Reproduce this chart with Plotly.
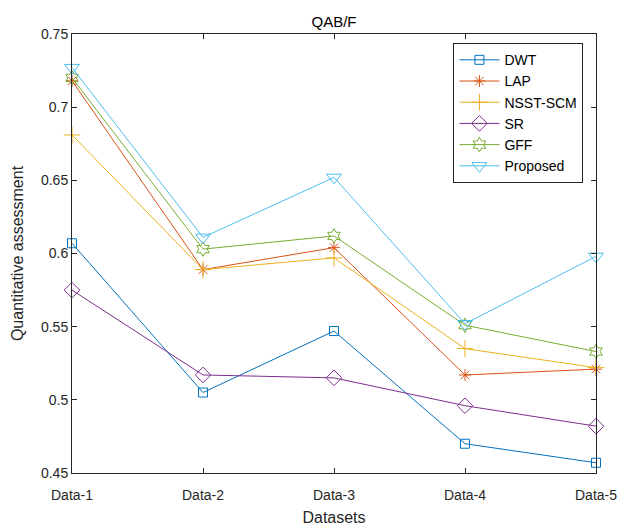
import plotly.graph_objects as go

datasets = ["Data-1", "Data-2", "Data-3", "Data-4", "Data-5"]
dwt = [0.607, 0.505, 0.547, 0.470, 0.457]
lap = [0.718, 0.589, 0.604, 0.517, 0.521]
nsst_scm = [0.681, 0.589, 0.597, 0.535, 0.522]
sr = [0.575, 0.517, 0.515, 0.496, 0.482]
gff = [0.720, 0.603, 0.612, 0.551, 0.533]
proposed = [0.727, 0.611, 0.652, 0.552, 0.598]

y_ticks = [0.45, 0.5, 0.55, 0.6, 0.65, 0.7, 0.75]
y_tick_text = ["0.45", "0.5", "0.55", "0.6", "0.65", "0.7", "0.75"]

series = [
    ("DWT", dwt, "#0072BD", "square-open", 9),
    ("LAP", lap, "#D95319", "asterisk-open", 10),
    ("NSST-SCM", nsst_scm, "#EDB120", "cross-thin-open", 12),
    ("SR", sr, "#7E2F8E", "diamond-open", 12),
    ("GFF", gff, "#77AC30", "hexagram-open", 11),
    ("Proposed", proposed, "#4DBEEE", "triangle-down-open", 13),
]

FONT = "Liberation Sans, Arial"
xs = list(range(1, len(datasets) + 1))
fig = go.Figure()
for name, vals, color, sym, size in series:
    fig.add_trace(go.Scatter(
        x=xs, y=vals, name=name, mode="lines+markers",
        line=dict(color=color, width=1),
        marker=dict(symbol=sym, size=size, color=color, line=dict(color=color, width=1)),
        cliponaxis=False,
    ))

axis_common = dict(
    showline=True, linecolor="#262626", linewidth=1, mirror="allticks",
    ticks="inside", ticklen=5, tickcolor="#262626", showgrid=False, zeroline=False,
    tickfont=dict(family=FONT, size=14, color="#262626"), automargin=False,
)
fig.update_xaxes(
    range=[1, 5], tickvals=xs, ticktext=datasets, ticklabelstandoff=9,
    title=dict(text="Datasets", font=dict(family=FONT, size=16, color="#262626"), standoff=13),
    **axis_common,
)
fig.update_yaxes(
    range=[0.45, 0.75], tickvals=y_ticks, ticktext=y_tick_text,
    title=dict(text="Quantitative assessment", font=dict(family=FONT, size=16, color="#262626"), standoff=13),
    **axis_common,
)
# page body has an 8px default margin, so the figure is sized 8px smaller
fig.update_layout(
    width=621, height=518,
    margin=dict(l=64, r=33, t=26, b=53, autoexpand=False),
    paper_bgcolor="white", plot_bgcolor="white",
    title=dict(text="QAB/F", x=0.5, xref="paper", y=0.974, yanchor="middle",
               font=dict(family=FONT, size=15, color="black")),
    legend=dict(
        x=0.976, y=0.979, xanchor="right", yanchor="top",
        bgcolor="white", bordercolor="#262626", borderwidth=1,
        font=dict(family=FONT, size=14, color="black"),
        itemwidth=40, tracegroupgap=0,
    ),
    showlegend=True,
)
fig.write_html("out.html")
